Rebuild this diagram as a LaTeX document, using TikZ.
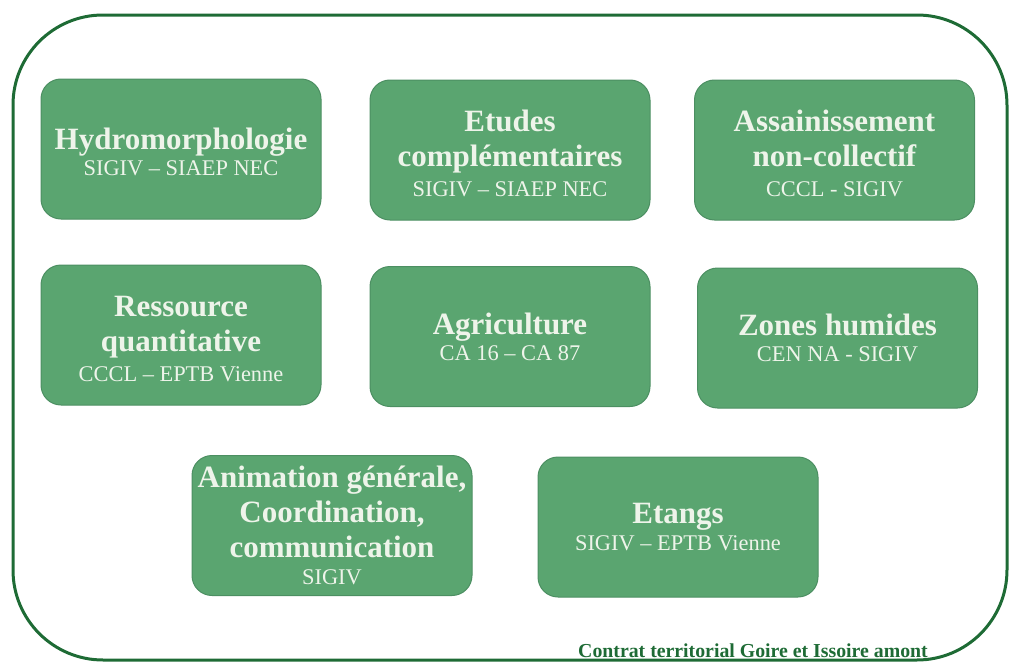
\documentclass[tikz,border=0pt]{standalone}
\usepackage{fontspec}
\setmainfont{Liberation Serif}
\usepackage{tikz}

\definecolor{framegreen}{HTML}{1E6B35}
\definecolor{boxgreen}{HTML}{5AA570}
\definecolor{boxline}{HTML}{4C8F62}
\definecolor{boxtext}{HTML}{EEF4EA}
\newcommand{\subline}[1]{{\mdseries\fontsize{11.2}{13}\selectfont #1}}
\newcommand{\lowerby}{\rule{0pt}{14pt}}

\tikzset{
  themebox/.style={draw=boxline,fill=boxgreen,rounded corners=10pt,line width=0.5pt,
    minimum width=140pt,minimum height=70pt,align=center,text=boxtext,
    font=\bfseries\fontsize{15.5}{17.5}\selectfont,inner sep=2pt}
}

\begin{document}
\begin{tikzpicture}[x=0.5pt,y=-0.5pt]
          \useasboundingbox (0,0) rectangle (1009,664);
          \draw[framegreen,line width=1.5pt,rounded corners=45pt] (13,15) rectangle (1007,660);
          \node[themebox] (hydro) at (181,149) {\lowerby Hydromorphologie\\[-4.5pt]\subline{SIGIV – SIAEP NEC}};
          \node[themebox] (etudes) at (510,150) {\lowerby Etudes\\complémentaires\\[-2.5pt]\subline{SIGIV – SIAEP NEC}};
          \node[themebox] (assain) at (834.5,150) {\lowerby Assainissement\\non-collectif\\[-2.5pt]\subline{CCCL - SIGIV}};
          \node[themebox] (ressource) at (181,335) {\lowerby Ressource\\quantitative\\[-2.5pt]\subline{CCCL – EPTB Vienne}};
          \node[themebox] (agri) at (510,336.5) {Agriculture\\[-4.5pt]\subline{CA 16 – CA 87}};
          \node[themebox] (zones) at (837.5,338) {Zones humides\\[-4.5pt]\subline{CEN NA - SIGIV}};
          \node[themebox] (anim) at (332,525.5) {Animation générale,\\Coordination,\\communication\\[-4pt]\subline{SIGIV}};
          \node[themebox] (etangs) at (678,527) {Etangs\\[-4pt]\subline{SIGIV – EPTB Vienne}};
          \node[text=framegreen,font=\bfseries\fontsize{9.9}{11}\selectfont,inner sep=0pt] (contrat) at (753,651) {Contrat territorial Goire et Issoire amont};
        \end{tikzpicture}
\end{document}
